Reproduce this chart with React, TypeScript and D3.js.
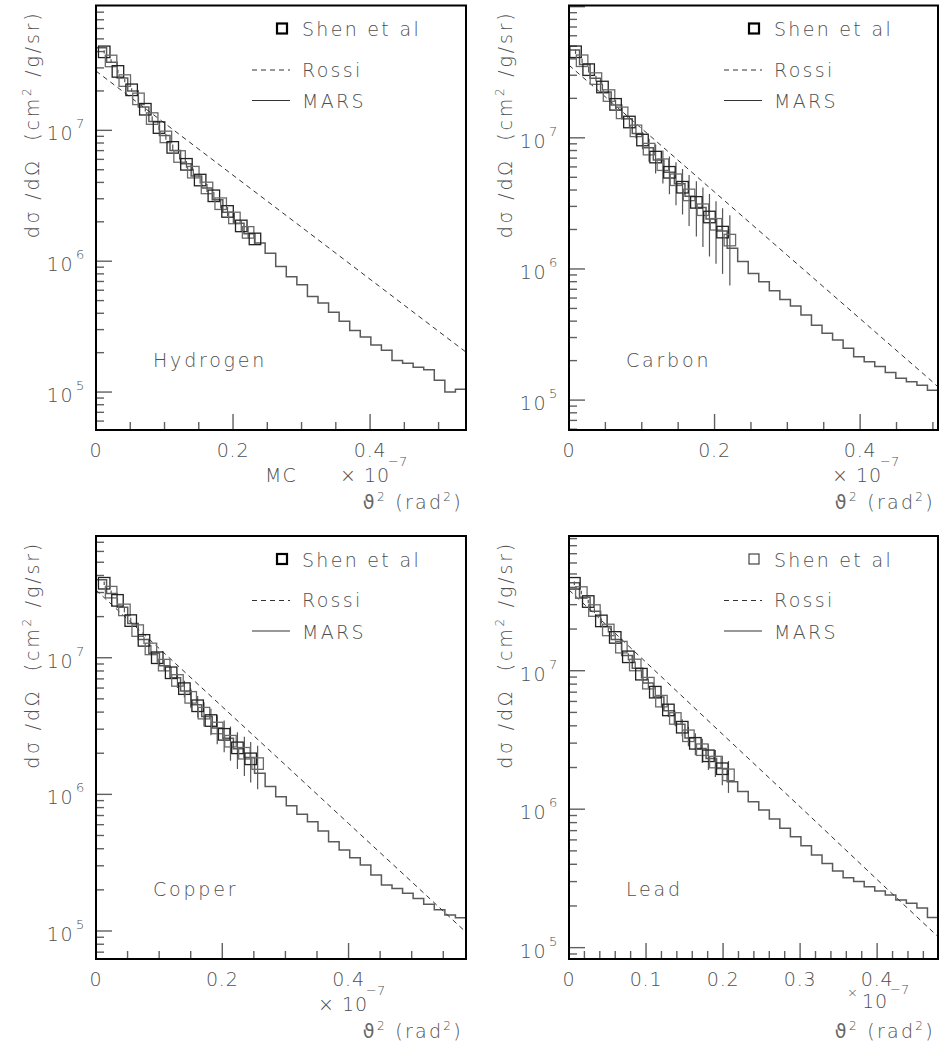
import React from "react";
import * as d3 from "d3";

// ---------------- Hydrogen ----------------
const hydrogenShenX = [0.012, 0.022, 0.032, 0.042, 0.052, 0.062, 0.072, 0.082, 0.092, 0.102, 0.112, 0.122, 0.132, 0.142, 0.152, 0.162, 0.172, 0.182, 0.192, 0.202, 0.212, 0.222, 0.232];
const hydrogenShenY = [3.98e7, 3.39e7, 2.82e7, 2.40e7, 2.04e7, 1.74e7, 1.45e7, 1.23e7, 1.05e7, 8.91e6, 7.41e6, 6.31e6, 5.50e6, 4.79e6, 4.17e6, 3.63e6, 3.16e6, 2.75e6, 2.40e6, 2.14e6, 1.86e6, 1.66e6, 1.48e6];
const hydrogenShenErr = [0.03, 0.03, 0.03, 0.03, 0.03, 0.04, 0.04, 0.04, 0.04, 0.05, 0.05, 0.05, 0.06, 0.06, 0.06, 0.07, 0.07, 0.08, 0.08, 0.09, 0.09, 0.1, 0.1];
const hydrogenMars = [4.27e7, 3.31e7, 2.51e7, 2.00e7, 1.51e7, 1.17e7, 9.12e6, 7.00e6, 5.56e6, 4.47e6, 3.63e6, 2.95e6, 2.37e6, 1.95e6, 1.62e6, 1.38e6, 1.15e6, 9.12e5, 7.59e5, 6.61e5, 5.37e5, 4.79e5, 4.07e5, 3.47e5, 2.95e5, 2.63e5, 2.29e5, 2.09e5, 1.74e5, 1.66e5, 1.55e5, 1.48e5, 1.23e5, 1.00e5, 1.05e5];
const hydrogenRossiX = [0, 0.1, 0.2, 0.3, 0.4, 0.5, 0.54];
const hydrogenRossiY = [2.84e7, 1.135e7, 4.54e6, 1.82e6, 7.28e5, 2.91e5, 2.02e5];

// ---------------- Carbon ----------------
const carbonShenX = [0.009, 0.018, 0.027, 0.037, 0.046, 0.055, 0.064, 0.073, 0.083, 0.092, 0.101, 0.110, 0.119, 0.129, 0.138, 0.147, 0.156, 0.165, 0.175, 0.184, 0.193, 0.202, 0.211, 0.221];
const carbonShenY = [4.53e7, 3.87e7, 3.31e7, 2.83e7, 2.44e7, 2.10e7, 1.80e7, 1.55e7, 1.32e7, 1.13e7, 9.62e6, 8.20e6, 7.13e6, 6.24e6, 5.46e6, 4.79e6, 4.20e6, 3.67e6, 3.22e6, 2.83e6, 2.49e6, 2.19e6, 1.91e6, 1.66e6];
const carbonShenErr = [0.04, 0.04, 0.05, 0.05, 0.06, 0.07, 0.08, 0.09, 0.1, 0.12, 0.15, 0.2, 0.25, 0.28, 0.32, 0.36, 0.38, 0.42, 0.45, 0.48, 0.5, 0.5, 0.52, 0.55];
const carbonMars = [4.68e7, 3.63e7, 2.85e7, 2.24e7, 1.78e7, 1.40e7, 1.08e7, 8.41e6, 6.76e6, 5.46e6, 4.47e6, 3.59e6, 2.94e6, 2.40e6, 1.95e6, 1.44e6, 1.14e6, 9.25e5, 7.98e5, 6.82e5, 5.86e5, 5.21e5, 4.46e5, 3.73e5, 3.23e5, 2.87e5, 2.48e5, 2.14e5, 1.96e5, 1.80e5, 1.62e5, 1.47e5, 1.38e5, 1.30e5, 1.19e5];
const carbonRossiX = [0, 0.1, 0.2, 0.3, 0.4, 0.5, 0.507];
const carbonRossiY = [3.58e7, 1.175e7, 3.86e6, 1.27e6, 4.17e5, 1.37e5, 1.26e5];

// ---------------- Copper ----------------
const copperShenX = [0.013, 0.024, 0.034, 0.045, 0.055, 0.066, 0.076, 0.087, 0.097, 0.108, 0.119, 0.129, 0.140, 0.150, 0.161, 0.171, 0.182, 0.192, 0.203, 0.213, 0.224, 0.235, 0.245, 0.256];
const copperShenY = [3.51e7, 3.02e7, 2.63e7, 2.24e7, 1.87e7, 1.58e7, 1.34e7, 1.16e7, 1.00e7, 8.83e6, 7.76e6, 6.82e6, 5.94e6, 5.13e6, 4.45e6, 3.93e6, 3.47e6, 3.06e6, 2.75e6, 2.45e6, 2.19e6, 2.00e6, 1.82e6, 1.68e6];
const copperShenErr = [0.03, 0.03, 0.04, 0.04, 0.05, 0.05, 0.06, 0.07, 0.08, 0.09, 0.10, 0.12, 0.14, 0.16, 0.18, 0.2, 0.22, 0.24, 0.26, 0.28, 0.3, 0.32, 0.33, 0.35];
const copperMars = [3.72e7, 2.95e7, 2.34e7, 1.78e7, 1.36e7, 1.08e7, 8.75e6, 7.13e6, 5.71e6, 4.53e6, 3.72e6, 3.06e6, 2.57e6, 2.16e6, 1.86e6, 1.43e6, 1.14e6, 9.62e5, 8.26e5, 7.14e5, 6.31e5, 5.40e5, 4.50e5, 3.92e5, 3.44e5, 3.04e5, 2.57e5, 2.17e5, 2.05e5, 1.89e5, 1.73e5, 1.57e5, 1.43e5, 1.31e5, 1.25e5];
const copperRossiX = [0, 0.1, 0.2, 0.3, 0.4, 0.5, 0.586];
const copperRossiY = [3.13e7, 1.17e7, 4.38e6, 1.64e6, 6.12e5, 2.29e5, 9.8e4];

// ---------------- Lead ----------------
const leadShenX = [0.007, 0.016, 0.025, 0.033, 0.042, 0.051, 0.060, 0.068, 0.077, 0.086, 0.094, 0.103, 0.112, 0.120, 0.129, 0.138, 0.147, 0.155, 0.164, 0.173, 0.181, 0.190, 0.199, 0.207];
const leadShenY = [4.28e7, 3.67e7, 3.16e7, 2.72e7, 2.29e7, 1.97e7, 1.74e7, 1.48e7, 1.26e7, 1.10e7, 9.44e6, 8.13e6, 7.00e6, 6.03e6, 5.21e6, 4.52e6, 3.91e6, 3.39e6, 2.99e6, 2.69e6, 2.43e6, 2.19e6, 1.96e6, 1.77e6];
const leadShenErr = [0.03, 0.03, 0.03, 0.04, 0.04, 0.04, 0.05, 0.05, 0.06, 0.06, 0.07, 0.08, 0.09, 0.10, 0.11, 0.12, 0.14, 0.16, 0.18, 0.2, 0.21, 0.22, 0.24, 0.26];
const leadMars = [4.32e7, 3.39e7, 2.69e7, 2.09e7, 1.68e7, 1.29e7, 1.04e7, 8.17e6, 6.46e6, 5.13e6, 4.10e6, 3.27e6, 2.74e6, 2.32e6, 1.97e6, 1.58e6, 1.34e6, 1.13e6, 9.86e5, 8.49e5, 7.28e5, 6.32e5, 5.45e5, 4.67e5, 4.06e5, 3.58e5, 3.20e5, 3.00e5, 2.75e5, 2.56e5, 2.40e5, 2.21e5, 2.09e5, 1.93e5, 1.65e5];
const leadRossiX = [0, 0.1, 0.2, 0.3, 0.4, 0.479];
const leadRossiY = [3.83e7, 1.15e7, 3.45e6, 1.04e6, 3.10e5, 1.20e5];

// ---------------- axis labels ----------------
const xTickLabelsWide = [0, 0.2, 0.4];
const xTickLabelsLead = [0, 0.1, 0.2, 0.3, 0.4];
const yTickDecades = [5, 6, 7];
const legendLabels = ["Shen et al", "Rossi", "MARS"];

const FONT = "'DejaVu Sans', 'Liberation Sans', sans-serif";
const TXT = "#505050";
const FW = 200;

type Spec = {
  id: string;
  name: string;
  left: number; right: number; top: number; bottom: number;
  xMax: number; yMin: number; yMax: number;
  xMajor: number[]; xMinorStep: number;
  shenX: number[]; shenY: number[]; shenErr: number[];
  mars: number[]; rossiX: number[]; rossiY: number[];
  multX: number; multRaised?: boolean; mc?: boolean; thinLegend?: boolean;
};

const panels: Spec[] = [
  {
    id: "h", name: "Hydrogen", left: 96, right: 466, top: 5.5, bottom: 430,
    xMax: 0.54, yMin: Math.pow(10, 4.71), yMax: Math.pow(10, 7.954),
    xMajor: xTickLabelsWide, xMinorStep: 0.05,
    shenX: hydrogenShenX, shenY: hydrogenShenY, shenErr: hydrogenShenErr,
    mars: hydrogenMars, rossiX: hydrogenRossiX, rossiY: hydrogenRossiY,
    multX: 340, mc: true,
  },
  {
    id: "c", name: "Carbon", left: 569, right: 938, top: 5.5, bottom: 430,
    xMax: 0.507, yMin: Math.pow(10, 4.772), yMax: Math.pow(10, 8.009),
    xMajor: xTickLabelsWide, xMinorStep: 0.05,
    shenX: carbonShenX, shenY: carbonShenY, shenErr: carbonShenErr,
    mars: carbonMars, rossiX: carbonRossiX, rossiY: carbonRossiY,
    multX: 832,
  },
  {
    id: "cu", name: "Copper", left: 96, right: 466, top: 536, bottom: 959,
    xMax: 0.586, yMin: Math.pow(10, 4.795), yMax: Math.pow(10, 7.891),
    xMajor: xTickLabelsWide, xMinorStep: 0.05,
    shenX: copperShenX, shenY: copperShenY, shenErr: copperShenErr,
    mars: copperMars, rossiX: copperRossiX, rossiY: copperRossiY,
    multX: 318,
  },
  {
    id: "pb", name: "Lead", left: 569, right: 938, top: 536, bottom: 959,
    xMax: 0.479, yMin: Math.pow(10, 4.918), yMax: Math.pow(10, 7.973),
    xMajor: xTickLabelsLead, xMinorStep: 0.02,
    shenX: leadShenX, shenY: leadShenY, shenErr: leadShenErr,
    mars: leadMars, rossiX: leadRossiX, rossiY: leadRossiY,
    multX: 847, multRaised: true, thinLegend: true,
  },
];

function fmt(v: number) {
  return v === 0 ? "0" : String(v);
}

function Panel({ p }: { p: Spec }) {
  const x = d3.scaleLinear().domain([0, p.xMax]).range([p.left, p.right]);
  const y = d3.scaleLog().domain([p.yMin, p.yMax]).range([p.bottom, p.top]);

  const nb = p.mars.length;
  const bw = p.xMax / nb;
  const marsPts: [number, number][] = p.mars.map((v, i) => [i * bw, v]);
  marsPts.push([p.xMax, p.mars[nb - 1]]);
  const marsPath = d3
    .line<[number, number]>()
    .x((d) => x(d[0]))
    .y((d) => y(d[1]))
    .curve(d3.curveStepAfter)(marsPts) as string;

  const rossiPath = d3
    .line<[number, number]>()
    .x((d) => x(d[0]))
    .y((d) => y(d[1]))(p.rossiX.map((v, i) => [v, p.rossiY[i]] as [number, number])) as string;

  const nMinor = Math.floor(p.xMax / p.xMinorStep + 1e-6);
  const xTicks = d3.range(0, nMinor + 1).map((i) => +(i * p.xMinorStep).toFixed(4));
  const isMajor = (v: number) => p.xMajor.some((m) => Math.abs(m - v) < 1e-6);

  const lo = Math.floor(Math.log10(p.yMin));
  const hi = Math.ceil(Math.log10(p.yMax));
  const yTicks: { v: number; major: boolean }[] = [];
  for (let e = lo; e <= hi; e++) {
    for (let m = 1; m <= 9; m++) {
      const v = m * Math.pow(10, e);
      if (v >= p.yMin && v <= p.yMax) yTicks.push({ v, major: m === 1 });
    }
  }

  const S = 11.5;
  const tickColor = "#606060";
  const lgx = p.right - 184;
  const lineX1 = p.right - 214;
  const lineX2 = p.right - 176;
  const textX = p.right - 164;
  const txtProps = { fill: TXT, fontFamily: FONT, fontWeight: FW } as const;

  return (
    <g>
      <defs>
        <clipPath id={"clip-" + p.id}>
          <rect x={p.left} y={p.top} width={p.right - p.left} height={p.bottom - p.top} />
        </clipPath>
      </defs>

      {/* y ticks */}
      {yTicks.map((t, i) => (
        <line key={"yt" + i} x1={p.left} x2={p.left + (t.major ? 16 : 8)} y1={y(t.v)} y2={y(t.v)} stroke={tickColor} strokeWidth={1.4} />
      ))}
      {/* x ticks */}
      {xTicks.map((t, i) => (
        <line key={"xt" + i} x1={x(t)} x2={x(t)} y1={p.bottom} y2={p.bottom - (isMajor(t) ? 16 : 8)} stroke={tickColor} strokeWidth={1.4} />
      ))}

      <g clipPath={`url(#clip-${p.id})`}>
        <path d={marsPath} fill="none" stroke="#5a5a5a" strokeWidth={1.5} />
        <path d={rossiPath} fill="none" stroke="#333" strokeWidth={1} strokeDasharray="5,4" />
        {p.shenX.map((sx, i) => (
          <line key={"e" + i} x1={x(sx)} x2={x(sx)} y1={y(p.shenY[i] * (1 + p.shenErr[i]))} y2={y(p.shenY[i] * (1 - p.shenErr[i]))} stroke="#555" strokeWidth={1.2} />
        ))}
        {p.shenX.map((sx, i) => (
          <rect key={"s" + i} x={x(sx) - S / 2} y={y(p.shenY[i]) - S / 2} width={S} height={S} fill="none" stroke={i % 2 ? "#6a6a6a" : "#222"} strokeWidth={1.3} />
        ))}
      </g>

      {/* frame */}
      <rect x={p.left} y={p.top} width={p.right - p.left} height={p.bottom - p.top} fill="none" stroke="#000" strokeWidth={2} />

      {/* y tick labels */}
      {yTickDecades
        .filter((e) => Math.pow(10, e) >= p.yMin && Math.pow(10, e) <= p.yMax)
        .map((e) => (
          <g key={"yl" + e} {...txtProps}>
            <text x={p.left - 22} y={y(Math.pow(10, e)) + 10} fontSize={19} textAnchor="end" letterSpacing={1.5}>10</text>
            <text x={p.left - 20} y={y(Math.pow(10, e)) - 2} fontSize={13}>{e}</text>
          </g>
        ))}

      {/* x tick labels */}
      {p.xMajor.map((v) => (
        <text key={"xl" + v} x={x(v)} y={p.bottom + 27} fontSize={19} textAnchor="middle" {...txtProps} letterSpacing={0.8}>
          {fmt(v)}
        </text>
      ))}

      {/* multiplier */}
      <g {...txtProps}>
        {p.multRaised ? (
          <>
            <text x={p.multX} y={p.bottom + 38} fontSize={13}>×</text>
            <text x={p.multX + 15} y={p.bottom + 49} fontSize={19} letterSpacing={1}>10</text>
            <text x={p.multX + 43} y={p.bottom + 35} fontSize={13}>−7</text>
          </>
        ) : (
          <>
            <text x={p.multX} y={p.bottom + 52} fontSize={19} letterSpacing={1}>{"×\u00a010"}</text>
            <text x={p.multX + 48} y={p.bottom + 36} fontSize={13}>−7</text>
          </>
        )}
      </g>
      {p.mc && (
        <text x={265} y={p.bottom + 52} fontSize={19} {...txtProps} letterSpacing={1}>MC</text>
      )}

      {/* x title */}
      <text x={p.right - 3} y={p.bottom + 79} fontSize={19} textAnchor="end" {...txtProps} letterSpacing={2.3}>
        <tspan fontWeight={400} fontFamily="'DejaVu Sans', sans-serif" fill="#666">ϑ</tspan>
        <tspan fontSize={12} dy={-8}>2</tspan>
        <tspan dy={8}>{"\u00a0(rad"}</tspan>
        <tspan fontSize={12} dy={-8}>2</tspan>
        <tspan dy={8}>)</tspan>
      </text>

      {/* y title */}
      <text
        transform={`translate(${p.left - 57},${p.top + 5}) rotate(-90)`}
        fontSize={19}
        textAnchor="end"
        {...txtProps}
        letterSpacing={2.8}
      >
        {"dσ\u00a0/dΩ\u00a0\u00a0(cm"}<tspan fontSize={12} dy={-8}>2</tspan>
        <tspan dy={8}>{"\u00a0/g/sr)"}</tspan>
      </text>

      {/* element name */}
      <text x={p.left + 57} y={p.bottom - 63} fontSize={19} {...txtProps} letterSpacing={2.8}>
        {p.name}
      </text>

      {/* legend */}
      <rect x={lgx - 5} y={p.top + 23 - 5} width={10} height={10} fill="none" stroke={p.thinLegend ? "#444" : "#000"} strokeWidth={p.thinLegend ? 1.2 : 2.2} />
      <text x={textX} y={p.top + 30.5} fontSize={19} {...txtProps} letterSpacing={2.3}>{legendLabels[0]}</text>
      <line x1={lineX1} x2={lineX2} y1={p.top + 64.5} y2={p.top + 64.5} stroke="#333" strokeWidth={1} strokeDasharray="5,4" />
      <text x={textX} y={p.top + 71} fontSize={19} {...txtProps} letterSpacing={2.3}>{legendLabels[1]}</text>
      <line x1={lineX1} x2={lineX2} y1={p.top + 95} y2={p.top + 95} stroke="#333" strokeWidth={1} />
      <text x={textX} y={p.top + 102.5} fontSize={19} {...txtProps} letterSpacing={2.3}>{legendLabels[2]}</text>
    </g>
  );
}

export default function App() {
  return (
    <svg width={940} height={1050} style={{ position: "absolute", left: 0, top: 0, background: "#fff" }}>
      <rect x={0} y={0} width={940} height={1050} fill="#fff" />
      {panels.map((p) => (
        <Panel key={p.id} p={p} />
      ))}
    </svg>
  );
}
